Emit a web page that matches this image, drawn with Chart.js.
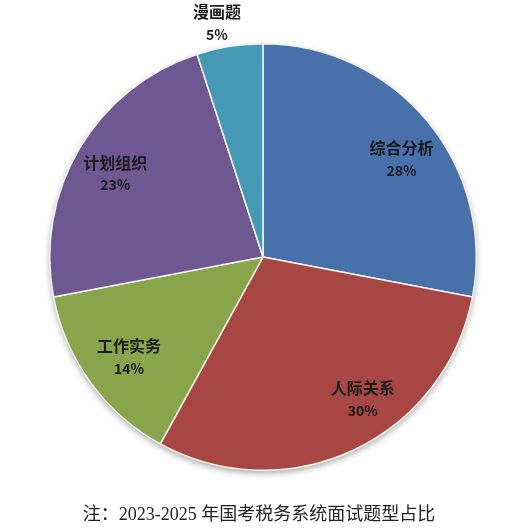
<!DOCTYPE html>
<html>
<head>
<meta charset="utf-8">
<script src="https://cdn.jsdelivr.net/npm/chart.js@4.4.1/dist/chart.umd.min.js"></script>
<style>
  html, body { margin: 0; padding: 0; background: #fff; }
  #wrap { position: relative; width: 518px; height: 529px; }
  #caption {
    position: absolute; left: 0; width: 518px; top: 499px;
    text-align: center; font-size: 18px; color: #222;
    font-family: "Liberation Serif", "Noto Sans CJK SC", serif;
  }
</style>
</head>
<body>
<div id="wrap">
  <canvas id="pieChart" width="518" height="529"></canvas>
  <div id="caption">注：2023-2025 年国考税务系统面试题型占比</div>
</div>
<script>
// Chart data
const categories = ["综合分析", "人际关系", "工作实务", "计划组织", "漫画题"];
const shares = [28, 30, 14, 23, 5];
const sliceColors = ["#4870ab", "#a84644", "#89a54c", "#6f5792", "#4699b4"];

// small nudges so labels sit where the original placed them (px)
const labelNudge = [[7, 11], [27, -12], [4, 0], [-1, 4], [-9, 0]];

// white disc with a soft shadow under the pie
const shadowPlugin = {
  id: "pieShadow",
  beforeDatasetsDraw(chart) {
    const arc = chart.getDatasetMeta(0).data[0];
    if (!arc) return;
    const ctx = chart.ctx;
    ctx.save();
    ctx.shadowColor = "rgba(0,0,0,0.35)";
    ctx.shadowBlur = 6;
    ctx.shadowOffsetY = 3;
    ctx.fillStyle = "#fff";
    ctx.beginPath();
    ctx.arc(arc.x, arc.y, arc.outerRadius, 0, Math.PI * 2);
    ctx.fill();
    ctx.restore();
  }
};

// category name + percent on each slice
const labelPlugin = {
  id: "sliceLabels",
  afterDatasetsDraw(chart) {
    const ctx = chart.ctx;
    const meta = chart.getDatasetMeta(0);
    ctx.save();
    ctx.fillStyle = "#1a1a1a";
    ctx.textAlign = "center";
    ctx.textBaseline = "middle";
    meta.data.forEach((arc, i) => {
      const mid = (arc.startAngle + arc.endAngle) / 2;
      const dist = shares[i] < 10 ? arc.outerRadius * 1.11 : arc.outerRadius * 0.8;
      const x = arc.x + Math.cos(mid) * dist + labelNudge[i][0];
      const y = arc.y + Math.sin(mid) * dist + labelNudge[i][1];
      ctx.font = "bold 16px 'Noto Sans CJK SC', sans-serif";
      ctx.fillText(categories[i], x, y - 11);
      ctx.font = "bold 14px 'Noto Sans CJK SC', sans-serif";
      ctx.fillText(shares[i] + "%", x, y + 11);
    });
    ctx.restore();
  }
};

const ctx = document.getElementById("pieChart").getContext("2d");
new Chart(ctx, {
  type: "pie",
  data: {
    labels: categories,
    datasets: [{
      data: shares,
      backgroundColor: sliceColors,
      borderColor: "#f4f4ee",
      borderWidth: 1.5,
    }],
  },
  options: {
    responsive: false,
    animation: false,
    layout: { padding: { top: 43, left: 49, right: 41, bottom: 58 } },
    plugins: {
      legend: { display: false },
      tooltip: { enabled: false },
    },
  },
  plugins: [shadowPlugin, labelPlugin],
});
</script>
</body>
</html>
